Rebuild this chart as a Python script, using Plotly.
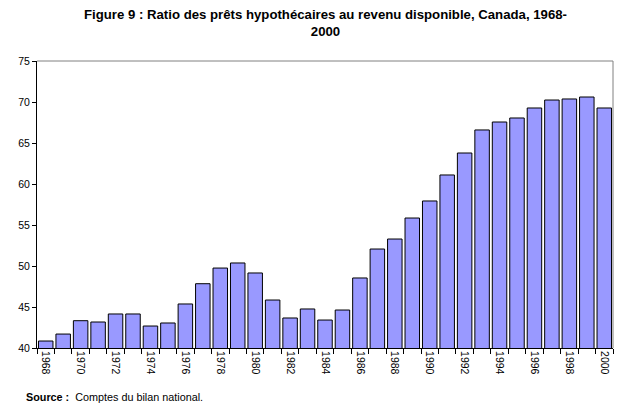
import plotly.graph_objects as go

years = list(range(1968, 2001))
ratio = [40.85, 41.7, 43.33, 43.17, 44.15, 44.15, 42.68, 43.05, 45.37, 47.84,
         49.75, 50.37, 49.15, 45.85, 43.66, 44.76, 43.41, 44.63, 48.54, 52.07,
         53.29, 55.85, 57.93, 61.1, 63.78, 66.59, 67.56, 68.05, 69.27, 70.24,
         70.37, 70.61, 69.27]
label_years = list(range(1968, 2001, 2))
y_ticks = [40, 45, 50, 55, 60, 65, 70, 75]

title_text = "Figure 9 : Ratio des prêts hypothécaires au revenu disponible, Canada, 1968-<br>2000"
source_text = "<b>Source :</b>  Comptes du bilan national."

W, H = 629, 415
L, R, T, B = 37, 16, 61, 67
PW, PH = W - L - R, H - T - B

fig = go.Figure()
fig.add_trace(go.Bar(
    x=years, y=ratio,
    marker=dict(color="#9999FF", line=dict(color="black", width=1)),
    width=0.83,
))

font_main = "Liberation Sans, Arial, sans-serif"

fig.update_layout(
    width=W, height=H,
    margin=dict(l=L, r=R, t=T, b=B),
    paper_bgcolor="white", plot_bgcolor="white",
    showlegend=False,
    font=dict(family=font_main, size=10, color="black"),
)

fig.update_xaxes(
    range=[1967.5, 2000.5], automargin=False,
    tickmode="array", tickvals=label_years, ticktext=[str(y) for y in label_years],
    tickangle=90, ticks="", showgrid=False, zeroline=False,
    showline=True, linecolor="black", linewidth=1,
    tickfont=dict(family=font_main, size=10.5, color="black"),
    minor=dict(tickmode="array", tickvals=[y - 0.5 for y in years] + [2000.5],
               ticks="outside", ticklen=5, tickcolor="black", tickwidth=1, showgrid=False),
)
fig.update_yaxes(
    range=[40, 75], tickmode="array", tickvals=y_ticks, automargin=False,
    ticks="outside", ticklen=4, tickcolor="black",
    showgrid=False, zeroline=False,
    showline=True, linecolor="black", linewidth=1,
    tickfont=dict(family=font_main, size=10.5, color="black"),
)

# gray top and right frame
fig.add_shape(type="line", xref="paper", yref="paper", x0=0, x1=1, y0=1, y1=1,
              line=dict(color="#808080", width=1))
fig.add_shape(type="line", xref="paper", yref="paper", x0=1, x1=1, y0=0, y1=1,
              line=dict(color="#808080", width=1))

# title
fig.add_annotation(
    text=title_text, xref="paper", yref="paper",
    x=(325 - L) / PW, y=1 + (T - 23) / PH,
    xanchor="center", yanchor="middle", showarrow=False, align="center",
    font=dict(family="Liberation Sans Narrow, Arial Narrow, Liberation Sans, Arial",
              size=13.2, color="black", weight="bold"),
)

fig.add_annotation(
    text=source_text, xref="paper", yref="paper",
    x=(24 - L) / PW, y=-(397 - (H - B)) / PH,
    xanchor="left", yanchor="middle", showarrow=False,
    font=dict(family=font_main, size=10.8, color="black"),
)

fig.write_html("out.html",
               config={"displayModeBar": False},
               post_script="document.body.style.margin='0';document.body.style.overflow='hidden';")
